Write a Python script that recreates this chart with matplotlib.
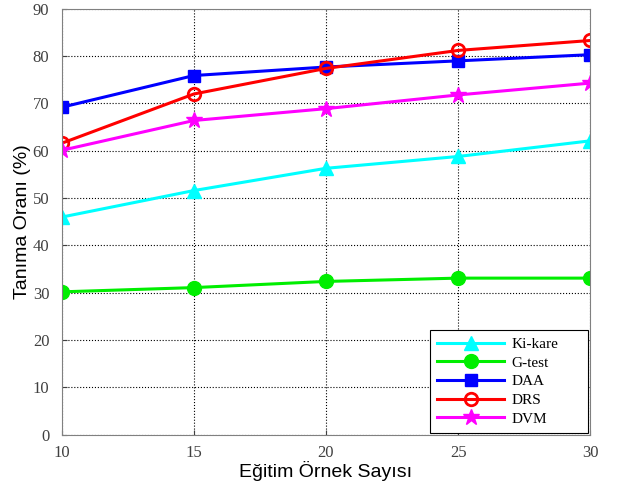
import numpy as np
import matplotlib.pyplot as plt

x = [10, 15, 20, 25, 30]
ki_kare = [46.0, 51.6, 56.3, 58.8, 62.1]
g_test = [30.2, 31.1, 32.4, 33.1, 33.1]
daa = [69.2, 75.9, 77.7, 79.0, 80.3]
drs = [61.6, 72.0, 77.4, 81.2, 83.3]
dvm = [60.1, 66.4, 68.9, 71.8, 74.3]

fig = plt.figure(figsize=(6.18, 4.88), dpi=100)
ax = fig.add_axes([0.1, 0.109, 0.855, 0.873])

ax.plot(x, ki_kare, color='cyan', lw=2.2, marker='^', ms=10, label='Ki-kare')
ax.plot(x, g_test, color='#00ee00', lw=2.2, marker='o', ms=10, label='G-test')
ax.plot(x, daa, color='blue', lw=2.2, marker='s', ms=8, label='DAA')
ax.plot(x, drs, color='red', lw=2.2, marker='o', ms=9, mfc='none', mew=2, label='DRS')
ax.plot(x, dvm, color='magenta', lw=2.2, marker='*', ms=12, label='DVM')

ax.set_xlim(10, 30)
ax.set_ylim(0, 90)
ax.set_xticks([10, 15, 20, 25, 30])
ax.set_yticks(range(0, 91, 10))
ax.grid(True, color='black', linestyle=':', lw=0.8)
ax.tick_params(direction='in', labelsize=12, colors='#404040')
ax.tick_params(axis='x', pad=7)
ax.tick_params(axis='y', pad=9)
for lab in ax.get_xticklabels() + ax.get_yticklabels():
    lab.set_family('Liberation Serif')
for s in ax.spines.values():
    s.set_color('#808080')

ax.set_xlabel('Eğitim Örnek Sayısı', fontsize=14, family='Liberation Sans', labelpad=0)
ax.set_ylabel('Tanıma Oranı (%)', fontsize=14, family='Liberation Sans', labelpad=1)

leg = ax.legend(loc='lower left', bbox_to_anchor=(0.697, 0.005, 0.299, 0.246), mode='expand',
                prop={'family': 'Liberation Serif', 'size': 11},
                fancybox=False, framealpha=1, edgecolor='black', handlelength=4.4,
                handletextpad=0.5, borderaxespad=0.0, labelspacing=0.33, borderpad=0.45)
leg.get_frame().set_linewidth(0.8)

fig.savefig('out.png')
